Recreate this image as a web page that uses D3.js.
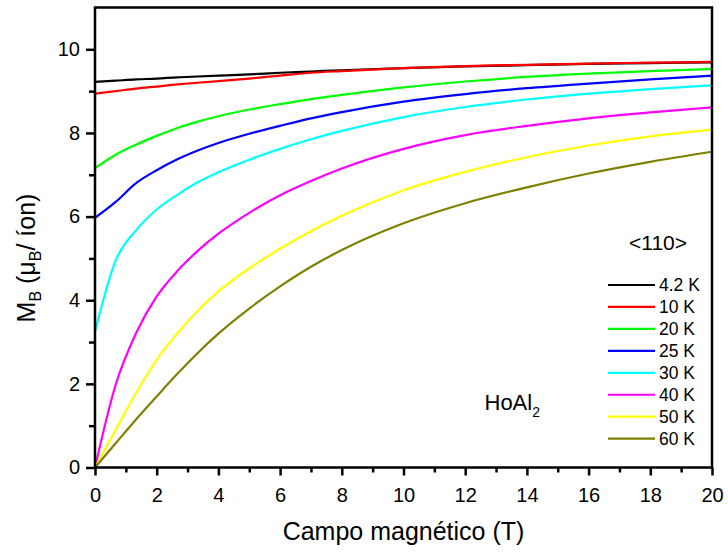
<!DOCTYPE html>
<html>
<head>
<meta charset="utf-8">
<script src="https://cdnjs.cloudflare.com/ajax/libs/d3/7.8.5/d3.min.js"></script>
<style>
  body { margin: 0; background: #fff; }
  text { font-family: "Liberation Sans", Arial, sans-serif; fill: #000; }
</style>
</head>
<body>
<div id="vis"></div>
<script>
// magnetic field (T)
var fieldT = [0, 0.67, 1.33, 2, 2.67, 3.33, 4, 5, 6, 7, 8, 10, 12, 14, 16, 18, 20];

// magnetisation (muB / ion), one array per temperature
var m4K  = [9.22, 9.25, 9.28, 9.30, 9.33, 9.35, 9.37, 9.40, 9.44, 9.47, 9.50, 9.55, 9.59, 9.62, 9.65, 9.67, 9.69];
var m10K = [8.94, 9.00, 9.06, 9.11, 9.16, 9.20, 9.24, 9.30, 9.37, 9.44, 9.48, 9.55, 9.60, 9.63, 9.66, 9.68, 9.70];
var m20K = [7.16, 7.48, 7.72, 7.93, 8.12, 8.27, 8.40, 8.56, 8.69, 8.81, 8.91, 9.09, 9.23, 9.34, 9.42, 9.48, 9.53];
var m25K = [5.97, 6.35, 6.80, 7.11, 7.37, 7.58, 7.76, 7.98, 8.17, 8.35, 8.50, 8.75, 8.93, 9.07, 9.18, 9.28, 9.37];
var m30K = [3.25, 4.95, 5.67, 6.17, 6.52, 6.82, 7.06, 7.36, 7.62, 7.85, 8.05, 8.38, 8.62, 8.80, 8.94, 9.05, 9.14];
var m40K = [0.00, 1.98, 3.21, 4.09, 4.70, 5.18, 5.59, 6.09, 6.51, 6.85, 7.15, 7.62, 7.95, 8.17, 8.35, 8.49, 8.61];
var m50K = [0.00, 0.90, 1.78, 2.58, 3.21, 3.75, 4.21, 4.76, 5.23, 5.65, 6.02, 6.63, 7.07, 7.42, 7.70, 7.92, 8.08];
var m60K = [0.00, 0.58, 1.15, 1.70, 2.24, 2.74, 3.20, 3.80, 4.33, 4.80, 5.20, 5.84, 6.32, 6.70, 7.03, 7.31, 7.55];

var labels = ["4.2 K", "10 K", "20 K", "25 K", "30 K", "40 K", "50 K", "60 K"];
var colors = ["#000000", "#ff0000", "#00ff00", "#0000ff", "#00ffff", "#ff00ff", "#ffff00", "#808000"];
var seriesM = [m4K, m10K, m20K, m25K, m30K, m40K, m50K, m60K];

var xMajor = [0, 2, 4, 6, 8, 10, 12, 14, 16, 18, 20];
var yMajor = [0, 2, 4, 6, 8, 10];

var W = 728, H = 552;
var margin = {top: 7.5, right: 16, bottom: 84.5, left: 95},
    width = W - margin.left - margin.right,
    height = H - margin.top - margin.bottom;

var svg = d3.select("#vis").append("svg")
    .attr("width", W)
    .attr("height", H);

var g = svg.append("g")
    .attr("transform", "translate(" + margin.left + "," + margin.top + ")");

var x = d3.scaleLinear().domain([0, 20]).range([0, width]);
var y = d3.scaleLinear().domain([0, 11]).range([height, 0]);

////////// axes //////////

var xMinor = d3.range(1, 20, 2), yMinor = d3.range(1, 11, 2);

g.append("g")
    .attr("transform", "translate(0," + height + ")")
    .call(d3.axisBottom(x).tickValues(xMajor).tickFormat(d3.format("d")).tickSize(8).tickPadding(12));
g.append("g")
    .attr("transform", "translate(0," + height + ")")
    .call(d3.axisBottom(x).tickValues(xMinor).tickFormat("").tickSize(5));

g.append("g")
    .call(d3.axisLeft(y).tickValues(yMajor).tickFormat(d3.format("d")).tickSize(9).tickPadding(6));
g.append("g")
    .call(d3.axisLeft(y).tickValues(yMinor).tickFormat("").tickSize(6));

g.selectAll(".domain").remove();
g.selectAll(".tick line").attr("stroke", "#000").attr("stroke-width", 2.5);
g.selectAll(".tick text")
    .style("font-size", "20px")
    .style("font-family", "'Liberation Sans', Arial, sans-serif")
    .attr("fill", "#000");

////////// curves //////////

var line = d3.line()
    .x(function(d) { return x(d[0]); })
    .y(function(d) { return y(d[1]); })
    .curve(d3.curveMonotoneX);

seriesM.forEach(function(vals, i) {
  g.append("path")
    .datum(fieldT.map(function(f, j) { return [f, vals[j]]; }))
    .attr("fill", "none")
    .attr("stroke", colors[i])
    .attr("stroke-width", 2.2)
    .attr("d", line);
});

// frame
g.append("rect")
    .attr("x", 0).attr("y", 0)
    .attr("width", width).attr("height", height)
    .attr("fill", "none")
    .attr("stroke", "#000")
    .attr("stroke-width", 2.5);

////////// legend //////////

g.append("text")
    .attr("x", 629 - margin.left)
    .attr("y", 249.5 - margin.top)
    .style("font-size", "21px")
    .text("<110>");

var legend = g.append("g")
    .attr("transform", "translate(" + (608 - margin.left) + "," + (285 - margin.top) + ")");

legend.selectAll("line")
    .data(labels)
    .enter().append("line")
    .attr("x1", 0).attr("x2", 47)
    .attr("y1", function(d, i) { return i * 21.95; })
    .attr("y2", function(d, i) { return i * 21.95; })
    .attr("stroke", function(d, i) { return colors[i]; })
    .attr("stroke-width", 2.2);

legend.selectAll("text")
    .data(labels)
    .enter().append("text")
    .attr("x", 51)
    .attr("y", function(d, i) { return i * 21.95 + 6.3; })
    .style("font-size", "17.5px")
    .text(function(d) { return d; });

var comp = g.append("text")
    .attr("x", 484.5 - margin.left)
    .attr("y", 409.5 - margin.top)
    .style("font-size", "22px");
comp.append("tspan").text("HoAl");
comp.append("tspan").attr("dy", 7).style("font-size", "14px").text("2");

////////// titles //////////

svg.append("text")
    .attr("x", 403.5)
    .attr("y", 540)
    .attr("text-anchor", "middle")
    .style("font-size", "25px")
    .text("Campo magnético (T)");

var yt = svg.append("text")
    .attr("transform", "translate(35,258) rotate(-90)")
    .attr("text-anchor", "middle")
    .style("font-size", "25px");
yt.append("tspan").text("M");
yt.append("tspan").attr("dy", 6).style("font-size", "16px").text("B");
yt.append("tspan").attr("dy", -6).text(" (\u03bc");
yt.append("tspan").attr("dy", 6).style("font-size", "16px").text("B");
yt.append("tspan").attr("dy", -6).text("/ \u00edon)");
</script>
</body>
</html>
